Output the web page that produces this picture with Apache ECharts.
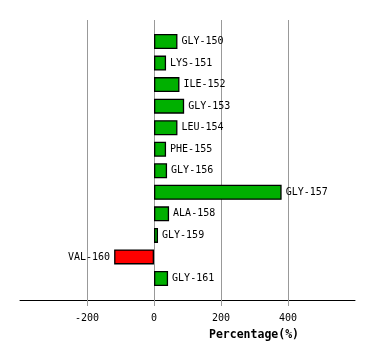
<!DOCTYPE html>
<html>
<head>
<meta charset="utf-8">
<script src="https://cdn.jsdelivr.net/npm/echarts@6/dist/echarts.min.js"></script>
<style>html,body{margin:0;padding:0;background:#fff;}#c{width:374px;height:360px;}</style>
</head>
<body>
<div id="c"></div>
<script>
const categories = ['GLY-150','LYS-151','ILE-152','GLY-153','LEU-154','PHE-155','GLY-156','GLY-157','ALA-158','GLY-159','VAL-160','GLY-161'];
const values = [70, 36, 76, 90, 70, 36, 39, 381, 45, 12, -119, 42];
const tickValues = [-200, 0, 200, 400];
const axisTitle = 'Percentage(%)';

const FONT = '"DejaVu Sans Mono", monospace';
const chart = echarts.init(document.getElementById('c'), null, {renderer: 'canvas'});
const yData = [''].concat(categories, [' ']);
const barData = ['-'].concat(values.map((v, i) => ({
  value: v,
  itemStyle: {color: v >= 0 ? '#00b000' : '#ff0000'},
  label: {position: v >= 0 ? 'right' : 'left', formatter: categories[i]}
})), ['-']);

chart.setOption({
  animation: false,
  backgroundColor: '#ffffff',
  grid: {left: 20, right: 19, top: 20, bottom: 60, containLabel: false},
  xAxis: {
    type: 'value', min: -400, max: 600, interval: 200,
    axisLine: {show: true, onZero: false, lineStyle: {color: '#000', width: 1}},
    axisTick: {show: true, length: 6, customValues: tickValues, lineStyle: {color: '#999'}},
    axisLabel: {show: true, customValues: tickValues, margin: 13, color: '#000', fontFamily: FONT, fontSize: 10},
    splitLine: {show: false}
  },
  yAxis: {
    type: 'category', inverse: true, data: yData, boundaryGap: false,
    axisLine: {show: false}, axisTick: {show: false}, axisLabel: {show: false}, splitLine: {show: false}
  },
  graphic: [{
    type: 'text', x: 254, y: 335,
    style: {text: axisTitle, fill: '#000', font: 'bold 11.5px ' + FONT, textAlign: 'center', textVerticalAlign: 'middle'}
  }],
  series: [{
    type: 'bar',
    z: 2,
    data: barData,
    barWidth: 15,
    itemStyle: {borderColor: '#000', borderWidth: 1.3},
    label: {show: true, distance: 4, color: '#000', fontFamily: FONT, fontSize: 10},
    markLine: {
      silent: true, z: 1, symbol: 'none', label: {show: false},
      lineStyle: {color: '#999', width: 1, type: 'solid'},
      data: tickValues.map(v => ({xAxis: v}))
    }
  }]
});
</script>
</body>
</html>
